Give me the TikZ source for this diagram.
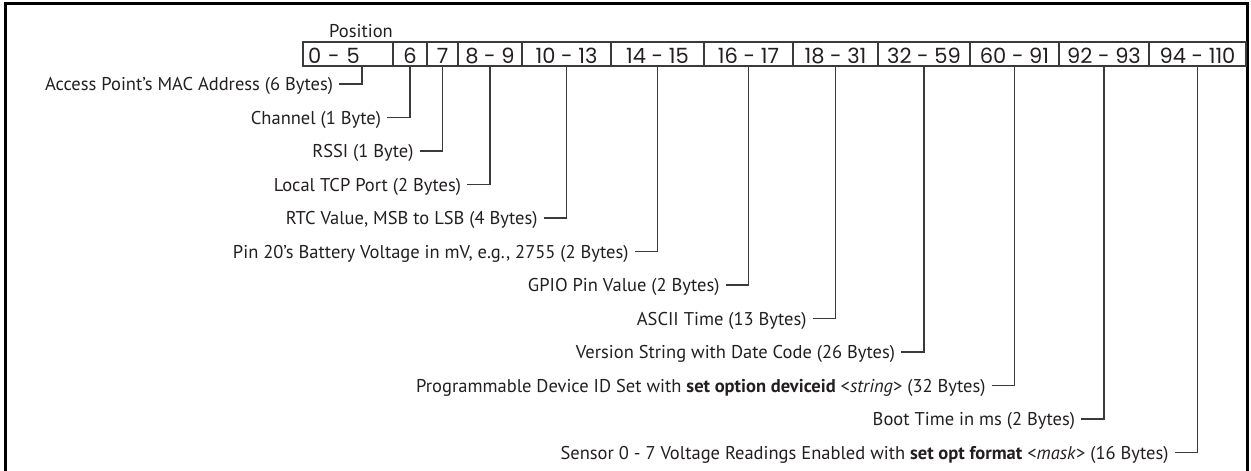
\documentclass[tikz,border=0pt]{standalone}
\usepackage{fontspec}
\setmainfont{PT Sans}
\newfontfamily\numfont{Poppins}
\definecolor{ink}{HTML}{231F20}
\definecolor{rulec}{HTML}{3A3A3A}
\begin{document}
\begin{tikzpicture}[x=1pt,y=-1pt,
  lab/.style={anchor=east, inner xsep=6pt, inner ysep=0pt, outer sep=0pt, text height=13pt, text depth=0pt, font=\fontsize{18.5}{22}\selectfont, text=ink},
  cell/.style={draw=rulec, line width=1.1pt, anchor=north west, minimum height=24pt, inner sep=0pt, outer sep=0pt, text height=21pt, text depth=2pt, font=\numfont\fontsize{21}{24}\selectfont, text=ink},
  conn/.style={draw=rulec, line width=1.3pt},
  frame/.style={draw=black, line width=3pt}]
\useasboundingbox (0,0) rectangle (1251,471);
\draw[frame] (5,471) -- (5,3) -- (1247,3) -- (1247,471);
\node[anchor=base west, inner sep=0pt, font=\fontsize{18.5}{22}\selectfont, text=ink] (pos) at (329,37) {Position};
\node[cell, minimum width=90pt, inner xsep=5pt, text width=80pt, align=left] (c0) at (303,42) {0 - 5};
\node[cell, minimum width=34pt] (c1) at (393,42) {6};
\node[cell, minimum width=31pt] (c2) at (427,42) {7};
\node[cell, minimum width=64pt] (c3) at (458,42) {8 - 9};
\node[cell, minimum width=89pt] (c4) at (522,42) {10 - 13};
\node[cell, minimum width=93pt] (c5) at (611,42) {14 - 15};
\node[cell, minimum width=89pt] (c6) at (704,42) {16 - 17};
\node[cell, minimum width=85pt] (c7) at (793,42) {18 - 31};
\node[cell, minimum width=92pt] (c8) at (878,42) {32 - 59};
\node[cell, minimum width=89pt] (c9) at (970,42) {60 - 91};
\node[cell, minimum width=90pt] (c10) at (1059,42) {92 - 93};
\node[cell, minimum width=97pt] (c11) at (1149,42) {94 - 110};
\node[lab] (l0) at (339,84) {Access Point’s MAC Address (6 Bytes)};
\node[lab] (l1) at (387,117.5) {Channel (1 Byte)};
\node[lab] (l2) at (419.5,151) {RSSI (1 Byte)};
\node[lab] (l3) at (467,184.5) {Local TCP Port (2 Bytes)};
\node[lab] (l4) at (543.5,218) {RTC Value, MSB to LSB (4 Bytes)};
\node[lab] (l5) at (634.5,251.5) {Pin 20’s Battery Voltage in mV, e.g., 2755 (2 Bytes)};
\node[lab] (l6) at (725.5,285) {GPIO Pin Value (2 Bytes)};
\node[lab] (l7) at (812.5,318.5) {ASCII Time (13 Bytes)};
\node[lab] (l8) at (901,352) {Version String with Date Code (26 Bytes)};
\node[lab] (l9) at (991.5,385.5) {Programmable Device ID Set with \textbf{set option deviceid} <\textit{string}> (32 Bytes)};
\node[lab] (l10) at (1081,419) {Boot Time in ms (2 Bytes)};
\node[lab] (l11) at (1174.5,452.5) {Sensor 0 - 7 Voltage Readings Enabled with \textbf{set opt format} <\textit{mask}> (16 Bytes)};
\draw[conn] (l0.east) -| ([xshift=14pt]c0.south);
\draw[conn] (l1.east) -| (c1.south);
\draw[conn] (l2.east) -| (c2.south);
\draw[conn] (l3.east) -| (c3.south);
\draw[conn] (l4.east) -| (c4.south);
\draw[conn] (l5.east) -| (c5.south);
\draw[conn] (l6.east) -| (c6.south);
\draw[conn] (l7.east) -| (c7.south);
\draw[conn] (l8.east) -| (c8.south);
\draw[conn] (l9.east) -| (c9.south);
\draw[conn] (l10.east) -| (c10.south);
\draw[conn] (l11.east) -| (c11.south);
\end{tikzpicture}
\end{document}
